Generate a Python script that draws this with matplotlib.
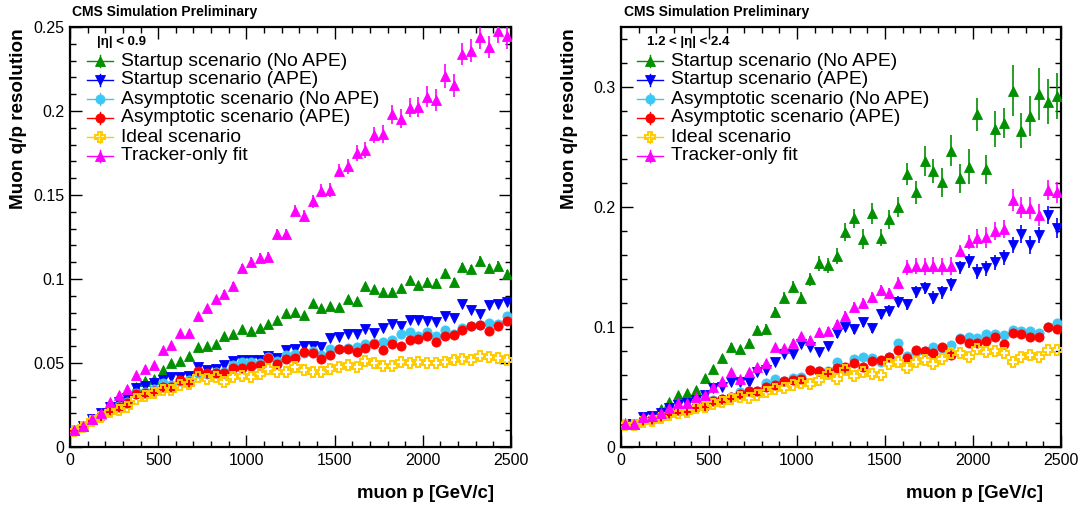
import matplotlib
matplotlib.use('Agg')
import matplotlib.pyplot as plt
from matplotlib.lines import Line2D
from matplotlib.ticker import MultipleLocator, FuncFormatter

plt.rcParams['font.family'] = ['Liberation Sans', 'DejaVu Sans']

# ---------------- data ----------------
p_bins = [25, 75, 125, 175, 225, 275, 325, 375, 425, 475,
          525, 575, 625, 675, 725, 775, 825, 875, 925, 975,
          1025, 1075, 1125, 1175, 1225, 1275, 1325, 1375, 1425, 1475,
          1525, 1575, 1625, 1675, 1725, 1775, 1825, 1875, 1925, 1975,
          2025, 2075, 2125, 2175, 2225, 2275, 2325, 2375, 2425, 2475]

labels = ["Startup scenario (No APE)", "Startup scenario (APE)",
          "Asymptotic scenario (No APE)", "Asymptotic scenario (APE)",
          "Ideal scenario", "Tracker-only fit"]

# left panel: |eta| < 0.9
barrel_startup_noape = [0.0100, 0.0123, 0.0166, 0.0200, 0.0245, 0.0280, 0.0300, 0.0360, 0.0390, 0.0403,
                        0.0458, 0.0500, 0.0512, 0.0540, 0.0593, 0.0601, 0.0615, 0.0660, 0.0673, 0.0700,
                        0.0692, 0.0710, 0.0732, 0.0754, 0.0800, 0.0804, 0.0788, 0.0859, 0.0830, 0.0839,
                        0.0833, 0.0881, 0.0869, 0.0958, 0.0942, 0.0925, 0.0925, 0.0946, 0.0994, 0.0964,
                        0.0984, 0.0978, 0.1034, 0.0984, 0.1070, 0.1060, 0.1110, 0.1065, 0.1080, 0.1028]
barrel_startup_ape = [0.0099, 0.0123, 0.0166, 0.0203, 0.0240, 0.0270, 0.0290, 0.0350, 0.0365, 0.0380,
                      0.0400, 0.0415, 0.0415, 0.0425, 0.0474, 0.0458, 0.0466, 0.0486, 0.0512, 0.0516,
                      0.0516, 0.0516, 0.0540, 0.0528, 0.0577, 0.0581, 0.0603, 0.0603, 0.0593, 0.0647,
                      0.0657, 0.0673, 0.0673, 0.0700, 0.0677, 0.0706, 0.0732, 0.0722, 0.0756, 0.0755,
                      0.0750, 0.0742, 0.0778, 0.0768, 0.0853, 0.0817, 0.0790, 0.0843, 0.0853, 0.0865]
barrel_asym_noape = [0.0097, 0.0121, 0.0160, 0.0192, 0.0225, 0.0245, 0.0270, 0.0320, 0.0327, 0.0343,
                     0.0380, 0.0370, 0.0390, 0.0400, 0.0438, 0.0437, 0.0448, 0.0448, 0.0486, 0.0506,
                     0.0506, 0.0500, 0.0534, 0.0514, 0.0548, 0.0554, 0.0560, 0.0573, 0.0550, 0.0581,
                     0.0583, 0.0591, 0.0597, 0.0611, 0.0617, 0.0623, 0.0637, 0.0673, 0.0687, 0.0660,
                     0.0687, 0.0663, 0.0696, 0.0673, 0.0710, 0.0722, 0.0728, 0.0736, 0.0732, 0.0782]
barrel_asym_ape = [0.0096, 0.0120, 0.0158, 0.0187, 0.0220, 0.0236, 0.0260, 0.0313, 0.0323, 0.0335,
                   0.0360, 0.0360, 0.0400, 0.0387, 0.0452, 0.0442, 0.0442, 0.0438, 0.0472, 0.0472,
                   0.0484, 0.0490, 0.0528, 0.0494, 0.0524, 0.0530, 0.0563, 0.0560, 0.0526, 0.0550,
                   0.0583, 0.0582, 0.0567, 0.0591, 0.0614, 0.0577, 0.0615, 0.0602, 0.0637, 0.0643,
                   0.0663, 0.0625, 0.0663, 0.0667, 0.0696, 0.0722, 0.0725, 0.0692, 0.0721, 0.0752]
barrel_ideal = [0.0094, 0.0117, 0.0154, 0.0180, 0.0207, 0.0222, 0.0240, 0.0286, 0.0304, 0.0320,
                0.0340, 0.0340, 0.0370, 0.0375, 0.0419, 0.0405, 0.0419, 0.0389, 0.0419, 0.0423,
                0.0415, 0.0435, 0.0464, 0.0448, 0.0448, 0.0474, 0.0460, 0.0448, 0.0448, 0.0466,
                0.0478, 0.0488, 0.0478, 0.0514, 0.0500, 0.0480, 0.0484, 0.0504, 0.0498, 0.0508,
                0.0500, 0.0500, 0.0508, 0.0518, 0.0522, 0.0518, 0.0542, 0.0534, 0.0528, 0.0518]
barrel_tracker = [0.0100, 0.0124, 0.0168, 0.0205, 0.0270, 0.0310, 0.0345, 0.0430, 0.0462, 0.0486,
                  0.0577, 0.0605, 0.0680, 0.0680, 0.0780, 0.0827, 0.0878, 0.0912, 0.0958, 0.1063,
                  0.1102, 0.1125, 0.1133, 0.1265, 0.1265, 0.1407, 0.1375, 0.1462, 0.1526, 0.1530,
                  0.1645, 0.1670, 0.1750, 0.1770, 0.1857, 0.1863, 0.1980, 0.1954, 0.2020, 0.2026,
                  0.2085, 0.2065, 0.2208, 0.2153, 0.2340, 0.2360, 0.2442, 0.2380, 0.2478, 0.2446]
barrel_startup_noape_err = [0.0002, 0.0002, 0.0003, 0.0003, 0.0004, 0.0004, 0.0005, 0.0005, 0.0006, 0.0006,
                            0.0007, 0.0007, 0.0008, 0.0008, 0.0009, 0.0009, 0.0010, 0.0010, 0.0011, 0.0011,
                            0.0012, 0.0012, 0.0013, 0.0013, 0.0014, 0.0014, 0.0015, 0.0015, 0.0016, 0.0016,
                            0.0017, 0.0017, 0.0018, 0.0018, 0.0019, 0.0019, 0.0020, 0.0020, 0.0021, 0.0021,
                            0.0022, 0.0022, 0.0023, 0.0023, 0.0024, 0.0024, 0.0025, 0.0025, 0.0026, 0.0026]
barrel_tracker_err = [0.0005, 0.0005, 0.0006, 0.0007, 0.0008, 0.0009, 0.0010, 0.0011, 0.0012, 0.0013,
                      0.0014, 0.0015, 0.0016, 0.0017, 0.0018, 0.0020, 0.0020, 0.0022, 0.0024, 0.0025,
                      0.0026, 0.0028, 0.0030, 0.0030, 0.0035, 0.0034, 0.0036, 0.0038, 0.0040, 0.0040,
                      0.0040, 0.0044, 0.0046, 0.0048, 0.0050, 0.0052, 0.0055, 0.0056, 0.0058, 0.0060,
                      0.0064, 0.0066, 0.0070, 0.0068, 0.0065, 0.0070, 0.0070, 0.0065, 0.0075, 0.0078]

# right panel: 1.2 < |eta| < 2.4
endcap_startup_noape = [0.0197, 0.0195, 0.0253, 0.0260, 0.0314, 0.0378, 0.0433, 0.0447, 0.0475, 0.0578,
                        0.0650, 0.0744, 0.0836, 0.0814, 0.0864, 0.0975, 0.0983, 0.1128, 0.1244, 0.1336,
                        0.1244, 0.1397, 0.1530, 0.1514, 0.1590, 0.1794, 0.1906, 0.1733, 0.1947, 0.1744,
                        0.1897, 0.2003, 0.2275, 0.2122, 0.2386, 0.2303, 0.2206, 0.2470, 0.2239, 0.2336,
                        0.2772, 0.2314, 0.2650, 0.2703, 0.2970, 0.2636, 0.2758, 0.2942, 0.2878, 0.2925]
endcap_startup_ape = [0.0190, 0.0190, 0.0247, 0.0255, 0.0286, 0.0322, 0.0350, 0.0364, 0.0392, 0.0430,
                      0.0489, 0.0497, 0.0544, 0.0544, 0.0544, 0.0628, 0.0642, 0.0711, 0.0775, 0.0775,
                      0.0856, 0.0836, 0.0794, 0.0842, 0.0947, 0.1003, 0.0983, 0.1039, 0.0989, 0.1108,
                      0.1136, 0.1211, 0.1189, 0.1289, 0.1322, 0.1244, 0.1289, 0.1358, 0.1497, 0.1553,
                      0.1461, 0.1489, 0.1539, 0.1580, 0.1683, 0.1775, 0.1683, 0.1767, 0.1933, 0.1822]
endcap_asym_noape = [0.0190, 0.0190, 0.0228, 0.0235, 0.0260, 0.0285, 0.0310, 0.0310, 0.0338, 0.0345,
                     0.0390, 0.0400, 0.0420, 0.0460, 0.0470, 0.0470, 0.0530, 0.0567, 0.0550, 0.0572,
                     0.0580, 0.0640, 0.0630, 0.0633, 0.0711, 0.0642, 0.0730, 0.0753, 0.0739, 0.0711,
                     0.0753, 0.0870, 0.0761, 0.0794, 0.0803, 0.0836, 0.0828, 0.0850, 0.0906, 0.0920,
                     0.0906, 0.0942, 0.0942, 0.0933, 0.0975, 0.0970, 0.0970, 0.0953, 0.1003, 0.1036]
endcap_asym_ape = [0.0190, 0.0190, 0.0225, 0.0230, 0.0258, 0.0280, 0.0308, 0.0308, 0.0336, 0.0342,
                   0.0386, 0.0397, 0.0414, 0.0439, 0.0469, 0.0469, 0.0497, 0.0517, 0.0550, 0.0558,
                   0.0564, 0.0642, 0.0633, 0.0628, 0.0661, 0.0669, 0.0703, 0.0669, 0.0717, 0.0725,
                   0.0753, 0.0808, 0.0739, 0.0808, 0.0800, 0.0780, 0.0830, 0.0767, 0.0900, 0.0864,
                   0.0870, 0.0886, 0.0914, 0.0856, 0.0953, 0.0942, 0.0914, 0.0914, 0.0997, 0.0980]
endcap_ideal = [0.0185, 0.0185, 0.0211, 0.0220, 0.0240, 0.0267, 0.0286, 0.0294, 0.0322, 0.0336,
                0.0356, 0.0378, 0.0400, 0.0420, 0.0411, 0.0433, 0.0456, 0.0480, 0.0489, 0.0517,
                0.0536, 0.0525, 0.0558, 0.0608, 0.0567, 0.0642, 0.0594, 0.0628, 0.0608, 0.0600,
                0.0692, 0.0711, 0.0656, 0.0706, 0.0725, 0.0689, 0.0733, 0.0786, 0.0780, 0.0753,
                0.0817, 0.0789, 0.0803, 0.0780, 0.0711, 0.0753, 0.0767, 0.0753, 0.0808, 0.0808]
endcap_tracker = [0.0190, 0.0190, 0.0253, 0.0258, 0.0280, 0.0322, 0.0370, 0.0370, 0.0414, 0.0433,
                  0.0497, 0.0550, 0.0622, 0.0567, 0.0622, 0.0669, 0.0703, 0.0830, 0.0822, 0.0870,
                  0.0925, 0.0892, 0.0956, 0.0967, 0.1025, 0.1092, 0.1170, 0.1197, 0.1247, 0.1308,
                  0.1280, 0.1370, 0.1497, 0.1510, 0.1505, 0.1510, 0.1505, 0.1510, 0.1636, 0.1706,
                  0.1740, 0.1747, 0.1800, 0.1817, 0.2058, 0.1994, 0.1994, 0.1933, 0.2142, 0.2122]
endcap_startup_noape_err = [0.0005, 0.0005, 0.0007, 0.0008, 0.0010, 0.0012, 0.0014, 0.0015, 0.0017, 0.0020,
                            0.0022, 0.0025, 0.0028, 0.0030, 0.0032, 0.0035, 0.0038, 0.0042, 0.0045, 0.0048,
                            0.0050, 0.0055, 0.0060, 0.0062, 0.0068, 0.0076, 0.0080, 0.0083, 0.0090, 0.0070,
                            0.0080, 0.0083, 0.0095, 0.0097, 0.0125, 0.0100, 0.0120, 0.0130, 0.0120, 0.0146,
                            0.0140, 0.0120, 0.0150, 0.0125, 0.0210, 0.0146, 0.0170, 0.0215, 0.0190, 0.0190]
endcap_startup_ape_err = [0.0003, 0.0003, 0.0004, 0.0005, 0.0006, 0.0007, 0.0008, 0.0009, 0.0010, 0.0011,
                          0.0012, 0.0013, 0.0014, 0.0015, 0.0016, 0.0018, 0.0020, 0.0022, 0.0024, 0.0026,
                          0.0028, 0.0030, 0.0032, 0.0034, 0.0036, 0.0038, 0.0040, 0.0040, 0.0042, 0.0044,
                          0.0045, 0.0046, 0.0048, 0.0050, 0.0050, 0.0052, 0.0052, 0.0054, 0.0055, 0.0058,
                          0.0060, 0.0060, 0.0062, 0.0062, 0.0070, 0.0076, 0.0076, 0.0070, 0.0076, 0.0083]
endcap_tracker_err = [0.0003, 0.0003, 0.0004, 0.0005, 0.0006, 0.0007, 0.0008, 0.0009, 0.0010, 0.0011,
                      0.0012, 0.0013, 0.0014, 0.0015, 0.0016, 0.0018, 0.0020, 0.0022, 0.0024, 0.0026,
                      0.0028, 0.0030, 0.0032, 0.0034, 0.0036, 0.0040, 0.0042, 0.0044, 0.0045, 0.0046,
                      0.0048, 0.0050, 0.0060, 0.0065, 0.0070, 0.0072, 0.0074, 0.0074, 0.0050, 0.0060,
                      0.0080, 0.0090, 0.0076, 0.0076, 0.0090, 0.0088, 0.0093, 0.0090, 0.0083, 0.0090]

left_series = [barrel_startup_noape, barrel_startup_ape, barrel_asym_noape,
               barrel_asym_ape, barrel_ideal, barrel_tracker]
left_errs = [barrel_startup_noape_err, None, None, None, None, barrel_tracker_err]
right_series = [endcap_startup_noape, endcap_startup_ape, endcap_asym_noape,
                endcap_asym_ape, endcap_ideal, endcap_tracker]
right_errs = [endcap_startup_noape_err, endcap_startup_ape_err, None, None, None, endcap_tracker_err]

# ---------------- styles ----------------
colors = ['#009000', '#0000ff', '#3cc8f5', '#ff0000', '#ffcc00', '#ff00ff']
markers = ['^', 'v', 'o', 'o', 'P', '^']
msizes = [6.6, 6.6, 6.6, 6.6, 7.6, 6.6]
hollow = [False, False, False, False, True, False]

W, H = 1082, 508
fig = plt.figure(figsize=(W / 100, H / 100), dpi=100)


def fx(px):
    return px / W


def fy(py):
    return 1 - py / H


def make_axes(x0, x1, y0, y1):
    return fig.add_axes([fx(x0), fy(y1), fx(x1) - fx(x0), fy(y0) - fy(y1)])


def fmt(v, pos):
    return '%g' % round(v, 6)


def draw_panel(ax, series, errs, ymax, ymajor, yminor):
    for k, vals in enumerate(series):
        mfc = 'none' if hollow[k] else colors[k]
        ax.errorbar(p_bins, vals, yerr=errs[k], fmt=markers[k], color=colors[k],
                    ms=msizes[k], mfc=mfc, mec=colors[k], mew=1.4 if hollow[k] else 0.6,
                    elinewidth=1.2, capsize=0, zorder=3 + k)
    ax.set_xlim(0, 2500)
    ax.set_ylim(0, ymax)
    ax.xaxis.set_major_locator(MultipleLocator(500))
    ax.xaxis.set_minor_locator(MultipleLocator(100))
    ax.yaxis.set_major_locator(MultipleLocator(ymajor))
    ax.yaxis.set_minor_locator(MultipleLocator(yminor))
    ax.xaxis.set_major_formatter(FuncFormatter(fmt))
    ax.yaxis.set_major_formatter(FuncFormatter(fmt))
    ax.tick_params(which='both', direction='in', top=True, right=True, width=1.0,
                   labelsize=11.5, colors='black')
    ax.tick_params(which='major', length=8.5, pad=4)
    ax.tick_params(which='minor', length=4.3)
    for s in ax.spines.values():
        s.set_linewidth(1.6)


axL = make_axes(70, 511, 27, 447)
draw_panel(axL, left_series, left_errs, 0.25, 0.05, 0.01)
axR = make_axes(621, 1061, 27, 447)
draw_panel(axR, right_series, right_errs, 0.35, 0.1, 0.02)


def legend(x_marker, x_text, header, y_header):
    fig.text(fx(x_text - 24), fy(y_header), header, fontsize=9.5, fontweight='bold',
             ha='left', va='center')
    for k, lab in enumerate(labels):
        y = 61 + 19 * k
        fig.add_artist(Line2D([fx(x_marker - 13), fx(x_marker + 13)], [fy(y), fy(y)],
                              color=colors[k], lw=1.0, transform=fig.transFigure))
        fig.add_artist(Line2D([fx(x_marker), fx(x_marker)], [fy(y - 6), fy(y + 6)],
                              color=colors[k], lw=1.0, transform=fig.transFigure))
        mfc = 'none' if hollow[k] else colors[k]
        fig.add_artist(Line2D([fx(x_marker)], [fy(y)], marker=markers[k], ms=msizes[k],
                              color=colors[k], mfc=mfc, mec=colors[k],
                              mew=1.4 if hollow[k] else 0.6, linestyle='none',
                              transform=fig.transFigure))
        fig.text(fx(x_text), fy(y), lab, fontsize=13.9, ha='left', va='center')


legend(100, 121, '|\u03b7| < 0.9', 42)
legend(650, 671, '1.2 < |\u03b7| < 2.4', 42)

for xl in (72, 624):
    fig.text(fx(xl), fy(12), 'CMS Simulation Preliminary', fontsize=10, fontweight='bold',
             ha='left', va='center')

for xr in (494, 1043):
    fig.text(fx(xr), fy(494), 'muon p [GeV/c]', fontsize=13.4, fontweight='bold',
             ha='right', va='center')

for xc in (19, 570):
    fig.text(fx(xc), fy(28), 'Muon q/p resolution', fontsize=13.6, fontweight='bold',
             rotation=90, ha='center', va='top')

fig.savefig('out.png', dpi=100)
